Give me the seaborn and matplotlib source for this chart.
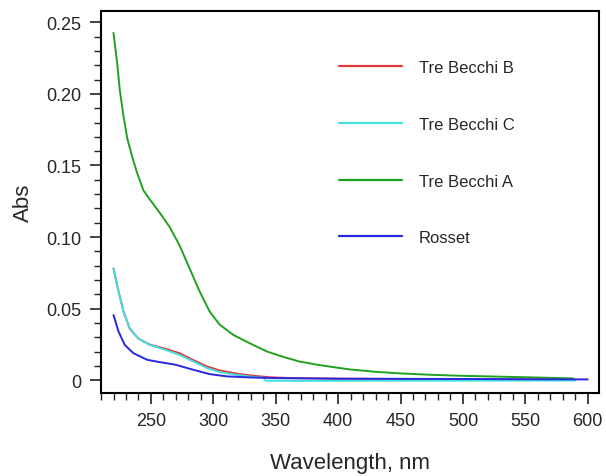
import numpy as np
import pandas as pd
import matplotlib
matplotlib.use("Agg")
import matplotlib.pyplot as plt
import seaborn as sns
from matplotlib.ticker import MultipleLocator, FuncFormatter

# --- data ---
wl_b = [220, 224, 228, 233, 240, 249, 262, 273, 284, 295, 305, 321, 335, 345, 360, 400, 450, 500, 550, 590]
abs_b = [0.078, 0.062, 0.048, 0.036, 0.029, 0.0248, 0.0218, 0.0188, 0.0140, 0.0095, 0.0068, 0.0042, 0.0028, 0.0020, 0.0015, 0.0010, 0.0008, 0.0006, 0.0005, 0.0004]

wl_c = [220, 224, 228, 233, 240, 249, 262, 273, 284, 295, 305, 321, 335, 340, 342, 360, 400, 450, 500, 550, 590]
abs_c = [0.078, 0.062, 0.048, 0.036, 0.029, 0.0246, 0.021, 0.0176, 0.013, 0.0084, 0.0056, 0.0033, 0.0020, 0.0017, -0.0004, -0.0005, -0.0005, -0.0004, -0.0004, -0.0003, -0.0003]

wl_a = [220, 223, 225, 228, 231, 235, 239, 244, 250, 257, 265, 273, 281, 289, 297, 305, 316, 329, 343, 355, 369, 385, 409, 430, 450, 475, 500, 525, 550, 570, 588]
abs_a = [0.2427, 0.221, 0.203, 0.1845, 0.169, 0.156, 0.1445, 0.1325, 0.1252, 0.117, 0.107, 0.094, 0.078, 0.062, 0.048, 0.0388, 0.0316, 0.0258, 0.020, 0.0165, 0.013, 0.0105, 0.0075, 0.0058, 0.0047, 0.0037, 0.003, 0.0025, 0.002, 0.0016, 0.0012]

wl_r = [220, 224, 229, 236, 247, 257, 270, 284, 297, 311, 329, 350, 400, 450, 500, 550, 600]
abs_r = [0.0455, 0.034, 0.0246, 0.0188, 0.0142, 0.0126, 0.0107, 0.0072, 0.0042, 0.0026, 0.0019, 0.0014, 0.0010, 0.0009, 0.0008, 0.0006, 0.0005]

series_names = ["Tre Becchi B", "Tre Becchi C", "Tre Becchi A", "Rosset"]
series_colors = ["#e03a3a", "#44e0e0", "#22a022", "#2828e0"]

frames = []
for name, wl, ab in zip(series_names, [wl_b, wl_c, wl_a, wl_r], [abs_b, abs_c, abs_a, abs_r]):
    frames.append(pd.DataFrame({"Wavelength": wl, "Abs": ab, "Sample": name}))
df = pd.concat(frames, ignore_index=True)

sns.set_style("ticks")
plt.rcParams["font.family"] = ["Liberation Sans", "DejaVu Sans"]

fig = plt.figure(figsize=(6.06, 4.77), dpi=100)
ax = fig.add_axes([0.1667, 0.174, 0.8217, 0.801])

sns.lineplot(data=df, x="Wavelength", y="Abs", hue="Sample", hue_order=series_names,
             palette=series_colors, linewidth=1.4, ax=ax, sort=False, estimator=None)

ax.set_xlim(210, 609)
ax.set_ylim(-0.009, 0.258)
ax.xaxis.set_minor_locator(MultipleLocator(10))
ax.yaxis.set_minor_locator(MultipleLocator(0.01))
ax.set_xticks([250, 300, 350, 400, 450, 500, 550, 600])
ax.set_yticks([0, 0.05, 0.10, 0.15, 0.20, 0.25])
ax.yaxis.set_major_formatter(FuncFormatter(lambda v, p: "0" if abs(v) < 1e-9 else f"{v:.2f}"))

ax.tick_params(which="major", length=8, width=1.2, labelsize=13, color="#222222", pad=6)
ax.tick_params(which="minor", length=5, width=1.0, color="#222222")
for s in ax.spines.values():
    s.set_linewidth(1.5)
    s.set_color("black")

ax.set_xlabel("Wavelength, nm", fontsize=16, labelpad=16)
ax.set_ylabel("Abs", fontsize=16, labelpad=9)

leg = ax.legend(loc="upper left", bbox_to_anchor=(0.447, 0.91), frameon=False,
                fontsize=12, handlelength=3.8, handletextpad=1.0, labelspacing=2.5)
for line in leg.get_lines():
    line.set_linewidth(1.6)

fig.savefig("out.png", dpi=100)
